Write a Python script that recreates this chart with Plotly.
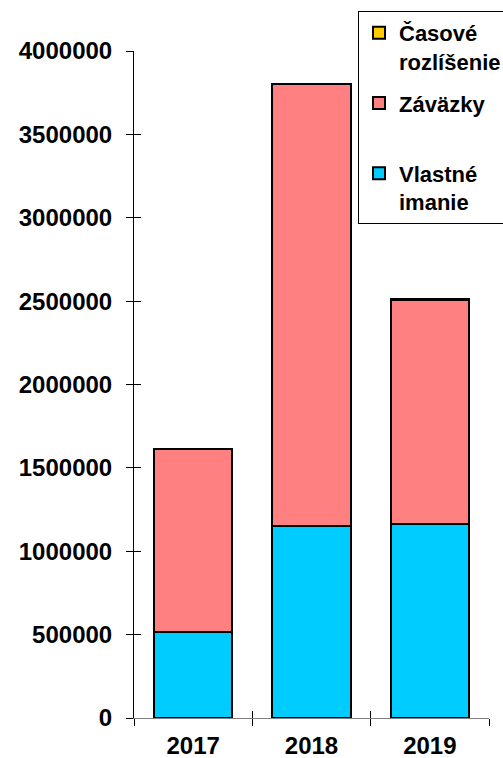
import plotly.graph_objects as go

years = ["2017", "2018", "2019"]
vlastne_imanie = [514000, 1151000, 1162000]
zavazky = [1099000, 2651000, 1345000]
casove_rozlisenie = [3000, 3000, 3000]
y_ticks = [0, 500000, 1000000, 1500000, 2000000, 2500000, 3000000, 3500000, 4000000]

FONT = "Arial, Liberation Sans, sans-serif"
line = dict(color="black", width=2)

fig = go.Figure()
fig.add_trace(go.Bar(x=years, y=vlastne_imanie, name="Vlastné<br>imanie",
                     marker=dict(color="#00CCFF", line=line), legendgroup="a", legendrank=3))
fig.add_trace(go.Bar(x=years, y=zavazky, name="Záväzky<br> ",
                     marker=dict(color="#FF8080", line=line), legendgroup="b", legendrank=2))
fig.add_trace(go.Bar(x=years, y=casove_rozlisenie, name="Časové<br>rozlíšenie",
                     marker=dict(color="#FFCC00", line=line), legendgroup="c", legendrank=1))
# invisible helper trace so the overlay (inner tick) axes are drawn
fig.add_trace(go.Scatter(x=years, y=[0, 0, 0], xaxis="x2", yaxis="y2", mode="markers",
                         marker=dict(opacity=0), showlegend=False, hoverinfo="skip"))

fig.update_layout(
    width=503, height=758,
    margin=dict(l=134, r=14, t=51, b=40, autoexpand=False),
    paper_bgcolor="white", plot_bgcolor="white",
    barmode="stack", bargap=0.336,
    font=dict(family=FONT, color="black"),
    showlegend=True,
    legend=dict(xref="container", yref="container", x=358 / 503, y=1 - 11 / 758,
                xanchor="left", yanchor="top",
                traceorder="grouped", tracegroupgap=10,
                bordercolor="black", borderwidth=1, bgcolor="white",
                valign="top",
                font=dict(family=FONT, size=22, weight="bold", color="black")),
    xaxis=dict(type="category", tickson="boundaries", ticks="outside", ticklen=7,
               tickcolor="black", showline=True, linecolor="#808080", linewidth=1,
               showgrid=False, zeroline=False, ticklabelstandoff=6,
               tickfont=dict(family=FONT, size=24, weight="bold", color="black")),
    yaxis=dict(range=[0, 4000000], tickvals=y_ticks, ticktext=[str(v) for v in y_ticks],
               ticks="outside", ticklen=7, tickcolor="black",
               showline=True, linecolor="black", linewidth=1,
               showgrid=False, zeroline=False, ticklabelstandoff=9,
               tickfont=dict(family=FONT, size=24, weight="bold", color="black")),
    xaxis2=dict(type="category", overlaying="x", matches="x", tickson="boundaries",
                ticks="inside", ticklen=7, tickcolor="black", showticklabels=False,
                showline=False, showgrid=False, zeroline=False, side="bottom"),
    yaxis2=dict(overlaying="y", matches="y", tickvals=y_ticks, ticks="inside",
                ticklen=7, tickcolor="black", showticklabels=False,
                showline=False, showgrid=False, zeroline=False, side="left"),
)

fig.write_html("out.html", config={"displayModeBar": False},
               post_script="document.body.style.margin='0';document.body.style.overflow='hidden';")
